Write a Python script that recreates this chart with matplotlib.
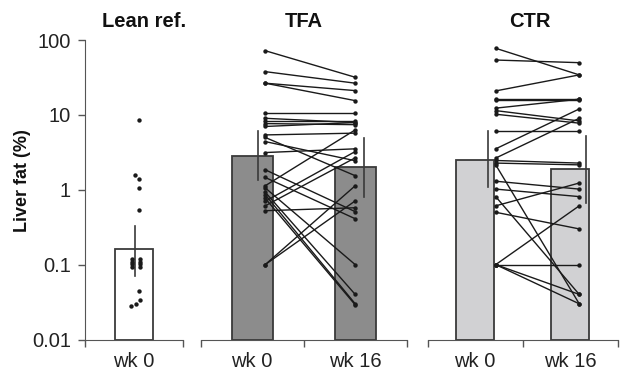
import numpy as np
import matplotlib
matplotlib.use("Agg")
import matplotlib.pyplot as plt
from matplotlib.ticker import FixedLocator, NullLocator

plt.rcParams['font.family'] = ['Liberation Sans', 'DejaVu Sans']

# ---- data (liver fat, %) ----
lean_values = [8.6, 1.58, 1.40, 1.07, 0.536,
               0.119, 0.119, 0.109, 0.109, 0.102, 0.102, 0.093, 0.093,
               0.044, 0.034, 0.030, 0.028]
lean_mean = 0.151
lean_err = (0.070, 0.324)

tfa_wk0 = [72, 37.8, 26.5, 26.5, 10.7, 9.0, 8.4, 7.65, 7.0, 5.4, 5.0, 4.4, 3.14,
           1.85, 1.46, 1.13, 1.06, 0.93, 0.86, 0.77, 0.70, 0.61, 0.525, 0.1, 0.1]
tfa_wk16 = [31.8, 26.5, 21.1, 15.5, 10.7, 7.9, 8.4, 7.4, 7.9, 5.7, 1.54, 2.44, 3.52,
            0.51, 0.41, 6.3, 0.1, 0.04, 0.03, 0.029, 3.24, 2.67, 0.575, 1.13, 0.71]
tfa_means = [2.84, 1.98]
tfa_errs = [(1.36, 6.0), (0.80, 4.9)]

ctr_wk0 = [77.5, 54, 20.9, 16.2, 16.0, 12.3, 11.4, 10.2, 6.1, 3.52, 2.65, 2.46, 2.27,
           2.15, 1.30, 1.02, 0.81, 0.61, 0.50, 0.1, 0.1, 0.1, 0.1]
ctr_wk16 = [34.2, 49.8, 34.2, 16.2, 16.0, 16.2, 8.3, 7.75, 6.1, 12.0, 9.0, 2.27, 2.15,
            0.030, 1.02, 0.81, 0.04, 1.23, 0.30, 0.61, 0.1, 0.04, 0.030]
ctr_means = [2.51, 1.89]
ctr_errs = [(1.09, 6.0), (0.665, 5.25)]

titles = ['Lean ref.', 'TFA', 'CTR']
lean_labels = ['wk 0']
pair_labels = ['wk 0', 'wk 16']

# ---- styling / layout ----
W, H = 625, 370
bottom, top = 30.5 / H, 330 / H
edge = '#3a3a3a'
ink = '#1a1a1a'
tick_fs = 14.5
dot_s = 10

fig = plt.figure(figsize=(6.25, 3.7), dpi=100)


def make_axes(left_px, width_px, ncat, first=False):
    ax = fig.add_axes([left_px / W, bottom, width_px / W, top - bottom])
    ax.set_yscale('log')
    ax.set_ylim(0.01, 100)
    ax.set_xlim(-0.5, ncat - 0.5)
    for s in ['top', 'right']:
        ax.spines[s].set_visible(False)
    ax.spines['bottom'].set_color('#555555')
    ax.spines['left'].set_color('#555555')
    ax.spines['left'].set_visible(first)
    ax.xaxis.set_major_locator(FixedLocator(np.arange(ncat)))
    ax.xaxis.set_minor_locator(FixedLocator(np.arange(ncat + 1) - 0.5))
    ax.tick_params(axis='x', which='major', length=0, pad=9, labelsize=tick_fs, colors='#222222')
    ax.tick_params(axis='x', which='minor', length=5, color='#555555', width=1)
    if first:
        ax.yaxis.set_major_locator(FixedLocator([0.01, 0.1, 1, 10, 100]))
        ax.yaxis.set_minor_locator(NullLocator())
        ax.set_yticklabels(['0.01', '0.1', '1', '10', '100'])
        ax.tick_params(axis='y', length=5, width=1, color='#555555', pad=5,
                       labelsize=tick_fs, colors='#222222')
    else:
        ax.yaxis.set_major_locator(NullLocator())
        ax.yaxis.set_minor_locator(NullLocator())
        ax.tick_params(axis='y', left=False, labelleft=False)
    return ax


ax_lean = make_axes(85, 98, 1, first=True)
ax_tfa = make_axes(200.7, 206, 2)
ax_ctr = make_axes(427.7, 190, 2)

# lean reference
ax_lean.bar([0], [lean_mean], width=0.39, bottom=0.01, color='white',
            edgecolor=edge, linewidth=1.3, zorder=1)
ax_lean.plot([0.015, 0.015], lean_err, color=edge, lw=1.2, zorder=2)
lean_jitter = [0.05, 0.01, 0.05, 0.05, 0.05,
               -0.02, 0.06, -0.02, 0.06, -0.02, 0.06, -0.02, 0.06,
               0.05, 0.06, 0.02, -0.03]
ax_lean.scatter(np.array(lean_jitter), lean_values, s=dot_s, color=ink, zorder=3, linewidths=0)
ax_lean.set_xticklabels(lean_labels)


def paired_panel(ax, before, after, means, errs, color, dot_off, err_off):
    ax.bar([0, 1], means, width=0.4, bottom=0.01, color=color,
           edgecolor=edge, linewidth=1.3, zorder=1)
    for i, (lo, hi) in enumerate(errs):
        ax.plot([i + err_off[i]] * 2, [lo, hi], color=edge, lw=1.2, zorder=2)
    x0, x1 = 0 + dot_off[0], 1 + dot_off[1]
    for a, b in zip(before, after):
        ax.plot([x0, x1], [a, b], color=ink, lw=1.0, zorder=3)
    ax.scatter([x0] * len(before), before, s=dot_s, color=ink, zorder=4, linewidths=0)
    ax.scatter([x1] * len(after), after, s=dot_s, color=ink, zorder=4, linewidths=0)
    ax.set_xticklabels(pair_labels)


paired_panel(ax_tfa, tfa_wk0, tfa_wk16, tfa_means, tfa_errs, '#8c8c8c',
             (0.126, 0.0), (0.058, 0.083))
paired_panel(ax_ctr, ctr_wk0, ctr_wk16, ctr_means, ctr_errs, '#d1d1d3',
             (0.216, 0.095), (0.137, 0.168))

# panel titles
title_y = 1.063
for ax, t, xf in zip([ax_lean, ax_tfa, ax_ctr], titles, [0.6, 0.5, 0.54]):
    ax.text(xf, title_y, t, transform=ax.transAxes, ha='center', va='center',
            fontsize=14.5, fontweight='bold', color='#111111')

fig.text(23 / W, 1 - 181 / H, 'Liver fat (%)', rotation=90, ha='center', va='center',
         fontsize=13, fontweight='bold', color='#111111')

fig.savefig('out.png', dpi=100)
